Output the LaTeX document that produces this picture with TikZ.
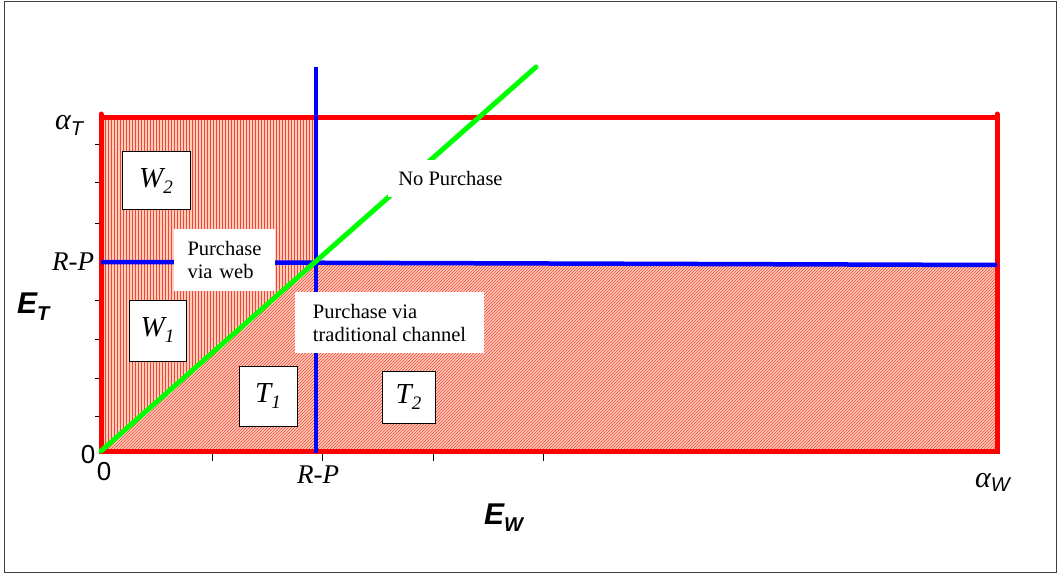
\documentclass[tikz,border=0pt]{standalone}
\usepackage{fontspec}
\setmainfont{Liberation Serif}
\newfontfamily\arial{Liberation Sans}
\usetikzlibrary{patterns}
\definecolor{hatchbase}{RGB}{255,205,190}
\definecolor{hatchline}{RGB}{245,70,50}
\definecolor{frameline}{RGB}{255,0,0}
\definecolor{rpblue}{RGB}{0,0,255}
\definecolor{diaggreen}{RGB}{0,255,0}
\tikzset{
  redline/.style={draw=frameline, line width=5pt, line cap=round},
  blueline/.style={draw=rpblue, line width=4.5pt},
  greenline/.style={draw=diaggreen, line width=5pt, line cap=round},
  tick/.style={draw=black, line width=1pt},
  regionbox/.style={draw=black, line width=1pt, fill=white, inner sep=0pt, font=\fontsize{29}{29}\selectfont\itshape},
  textbox/.style={fill=white, inner sep=0pt, align=left, font=\fontsize{20.5}{23}\selectfont},
}
\begin{document}
\begin{tikzpicture}[x=1pt,y=-1pt]
\useasboundingbox (0,0) rectangle (1061,575);
\draw[line width=1.2pt, draw=black!75] (4.5,1.5) rectangle (1056.5,572.5);
% key points
\coordinate (O) at (101,451);
\coordinate (TL) at (101,118);
\coordinate (TR) at (997,118);
\coordinate (BR) at (997,451);
\coordinate (Q) at (316,262);
\coordinate (QT) at (316,118);
\coordinate (HR) at (997,265);
\coordinate (VT) at (316,67);
\coordinate (VB) at (316,453);
\coordinate (HL) at (101,262);
\coordinate (G) at (536,67);
% hatched regions
\fill[hatchbase] (O) -- (TL) -- (QT) -- (Q) -- cycle;
\fill[pattern=vertical lines, pattern color=hatchline] (O) -- (TL) -- (QT) -- (Q) -- cycle;
\fill[hatchbase] (O) -- (Q) -- (HR) -- (BR) -- cycle;
\fill[pattern=north east lines, pattern color=hatchline] (O) -- (Q) -- (HR) -- (BR) -- cycle;
\draw[line width=0.8pt, draw=black!70!red] (O) -- (BR) -- (HR);
% ticks
\foreach \yy in {145,183,223,300,339,378,416} \draw[tick] (95,\yy) -- (101,\yy);
\foreach \xx in {212,322,433,543} \draw[tick] (\xx,451) -- (\xx,461);
% frame
\draw[redline] (TL) -- (TR) -- (BR) -- (O) -- cycle;
\draw[redline] (101,114) -- (TL);
\draw[redline] (997,114) -- (TR);
% blue lines
\draw[blueline] (VT) -- (VB);
\draw[blueline] (HL) -- (HR);
% green diagonal
\draw[greenline] (O) -- (G);
% region boxes
\node[regionbox, minimum width=68pt, minimum height=58pt] (w2) at (156,181) {W\raisebox{-6pt}{\fontsize{19}{19}\selectfont 2}};
\node[regionbox, minimum width=57pt, minimum height=61pt] (w1) at (157.5,330.5) {W\raisebox{-6pt}{\fontsize{19}{19}\selectfont 1}};
\node[regionbox, minimum width=58pt, minimum height=60pt] (t1) at (268,396) {T\raisebox{-6pt}{\fontsize{19}{19}\selectfont 1}};
\node[regionbox, minimum width=53pt, minimum height=52pt] (t2) at (408.5,397) {T\raisebox{-6pt}{\fontsize{19}{19}\selectfont 2}};
% text boxes
\node[textbox, minimum width=101pt, minimum height=62pt, text width=88pt] (web) at (224.5,260) {\hspace*{7pt}Purchase\\\hspace*{7pt}via web};
\node[textbox, minimum width=189pt, minimum height=61pt] (trad) at (389.5,322.5) {Purchase via\\traditional channel};
\node[textbox, minimum width=126pt, minimum height=37pt] (nop) at (450.5,178.5) {No Purchase};
% axis labels
\node[inner sep=0pt, anchor=base west] (aT) at (55,130) {\fontsize{30}{30}\selectfont\itshape α\raisebox{-6pt}{\arial\fontsize{20}{20}\selectfont T}};
\node[inner sep=0pt] (rpL) at (73,262) {\fontsize{27}{27}\selectfont\itshape R-P};
\node[inner sep=0pt] (zL) at (88,455) {\arial\fontsize{26}{26}\selectfont 0};
\node[inner sep=0pt] (zB) at (104,472) {\arial\fontsize{26}{26}\selectfont 0};
\node[inner sep=0pt] (rpB) at (318,475) {\fontsize{27}{27}\selectfont\itshape R-P};
\node[inner sep=0pt, anchor=base west] (aW) at (975,487) {\fontsize{30}{30}\selectfont\itshape α\raisebox{-4pt}{\arial\fontsize{20}{20}\selectfont W}};
\node[inner sep=0pt, anchor=base west] (ET) at (17,313) {\arial\bfseries\itshape\fontsize{30}{30}\selectfont E\raisebox{-7pt}{\fontsize{20}{20}\selectfont T}};
\node[inner sep=0pt, anchor=base west] (EW) at (484,524) {\arial\bfseries\itshape\fontsize{30}{30}\selectfont E\raisebox{-7pt}{\fontsize{20}{20}\selectfont W}};
\end{tikzpicture}
\end{document}
